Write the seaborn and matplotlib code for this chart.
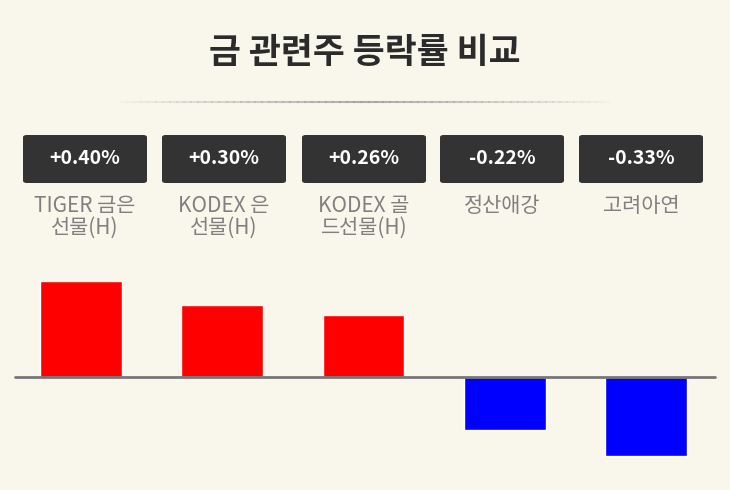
import matplotlib
matplotlib.use("Agg")
import matplotlib.pyplot as plt
import seaborn as sns
import pandas as pd
import numpy as np
from matplotlib.patches import FancyBboxPatch

names = ["TIGER 금은\n선물(H)", "KODEX 은\n선물(H)", "KODEX 골\n드선물(H)", "정산애강", "고려아연"]
changes = [0.40, 0.30, 0.26, -0.22, -0.33]
badges = ["+0.40%", "+0.30%", "+0.26%", "-0.22%", "-0.33%"]

sns.set_theme(style="white")
plt.rcParams['font.family'] = ['Noto Sans CJK KR', 'DejaVu Sans']

BG = "#f9f7ec"
W, H = 730, 490
fig = plt.figure(figsize=(7.3, 4.9), dpi=100, facecolor=BG)

def fx(px): return px / W
def fy(py): return 1 - py / H

# title and divider
fig.text(0.5, fy(52), "금 관련주 등락률 비교", ha="center", va="center",
         fontsize=25, fontweight="bold", color="#2b2b2b")
xs = np.linspace(fx(120), fx(610), 70)
for i in range(len(xs) - 1):
    a = 1 - abs((i / (len(xs) - 2)) * 2 - 1)
    fig.add_artist(plt.Line2D([xs[i], xs[i + 1]], [fy(102), fy(102)],
                              color="#999999", alpha=0.05 + 0.75 * a, lw=1.5))

# bars
step = 141.25
ax = fig.add_axes([0, fy(470), 1, fy(260) - fy(470)])
ax.set_facecolor(BG)
df = pd.DataFrame({"name": names, "chg": changes,
                   "sign": ["up" if c > 0 else "down" for c in changes]})
sns.barplot(data=df, x="name", y="chg", hue="sign",
            palette={"up": "#ff0000", "down": "#0000ff"},
            width=0.58, dodge=False, legend=False, ax=ax, saturation=1)
ax.set_xlim(-81 / step, (730 - 81) / step)
ax.set_ylim(-93 / 240, 117 / 240)
ax.axhline(0, xmin=fx(15), xmax=fx(715), color="#777777", lw=2)
ax.axis("off")

centers = [85, 224, 364, 502, 641]
for cx, b, n in zip(centers, badges, names):
    fig.add_artist(FancyBboxPatch((fx(cx - 62), fy(183)), fx(124), fy(135) - fy(183),
                                  boxstyle="round,pad=0,rounding_size=0.005",
                                  transform=fig.transFigure, fc="#333333", ec="none"))
    fig.text(fx(cx), fy(159), b, ha="center", va="center", color="white",
             fontsize=14, fontweight="bold")
    fig.text(fx(cx), fy(195), n, ha="center", va="top", color="#808080",
             fontsize=15, fontweight="medium", linespacing=1.0)

fig.savefig("out.png", dpi=100, facecolor=BG)
